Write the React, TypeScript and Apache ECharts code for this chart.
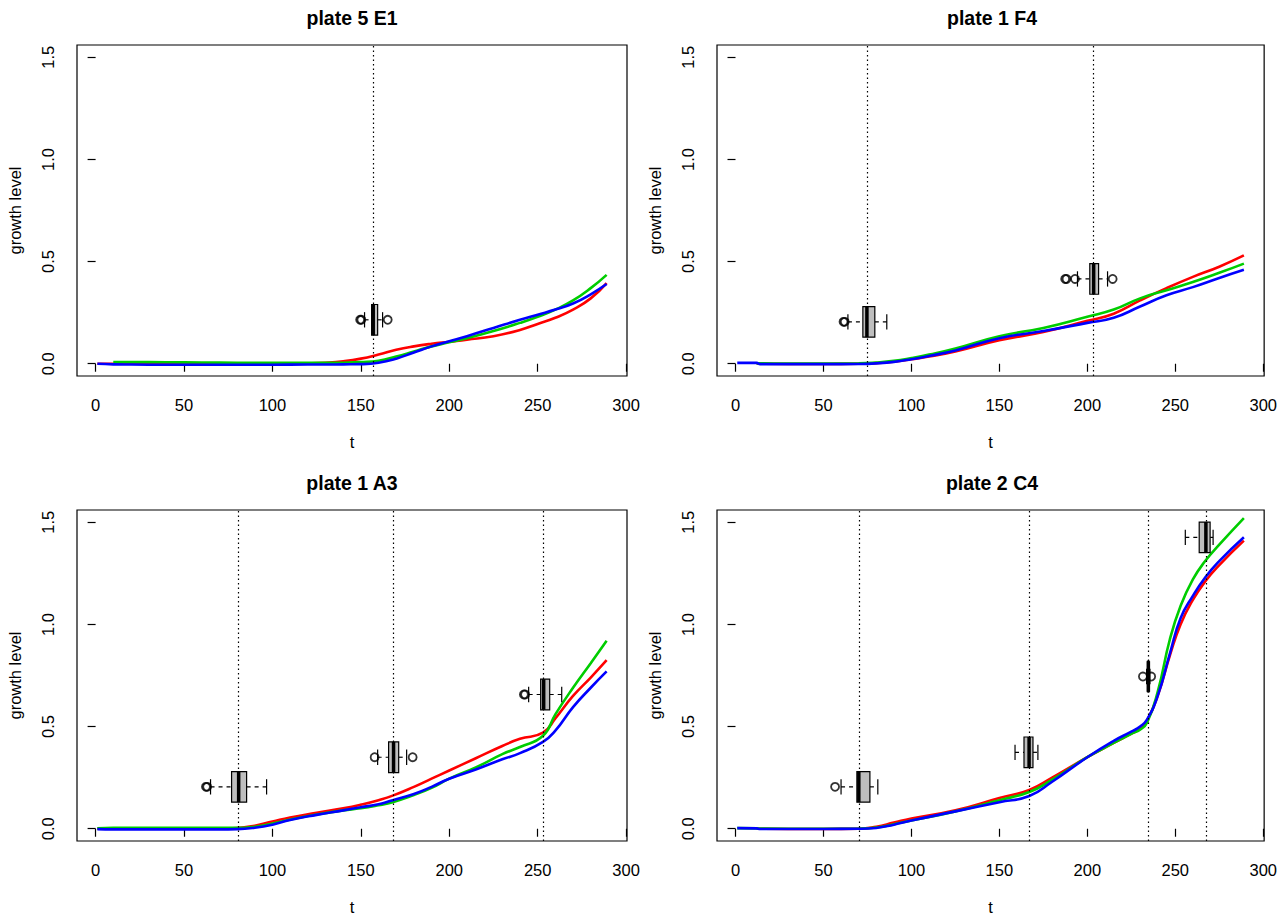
import React, { useEffect, useRef } from "react";
import * as echarts from "echarts";

const FONT = '"Liberation Sans", Arial, Helvetica, sans-serif';

const panelTitles = ["plate 5 E1", "plate 1 F4", "plate 1 A3", "plate 2 C4"];
const xTicks = [0, 50, 100, 150, 200, 250, 300];
const yTicks = [0, 0.5, 1, 1.5];

// ---------- panel A : plate 5 E1 ----------
const tA = [1, 10, 20, 40, 60, 80, 100, 120, 130, 140, 150, 160, 170, 180, 190, 200, 210, 225, 240, 250, 260, 270, 280, 289];
const redA = [0, 0, 0, 0, 0, 0, 0, 0.002, 0.005, 0.012, 0.025, 0.045, 0.068, 0.085, 0.098, 0.108, 0.118, 0.135, 0.165, 0.195, 0.225, 0.265, 0.32, 0.395];
const greenA = [null, 0.008, 0.008, 0.007, 0.006, 0.005, 0.004, 0.004, 0.004, 0.005, 0.008, 0.015, 0.035, 0.06, 0.085, 0.105, 0.125, 0.16, 0.2, 0.23, 0.265, 0.31, 0.37, 0.435];
const blueA = [0, -0.003, -0.004, -0.005, -0.005, -0.005, -0.005, -0.004, -0.004, -0.003, -0.002, 0.005, 0.025, 0.055, 0.085, 0.11, 0.135, 0.175, 0.215, 0.24, 0.265, 0.295, 0.34, 0.39];
// boxes: [y, lower whisker, q1, median, q3, upper whisker]
const boxesA = [[0.215, 152.1, 156.1, 157, 159.5, 162.3]];
const outliersA = [[149.6, 0.215], [150.3, 0.215], [165.2, 0.215]];

// ---------- panel B : plate 1 F4 ----------
const tB = [1, 12, 14, 30, 50, 70, 80, 90, 100, 110, 125, 150, 175, 200, 215, 230, 245, 260, 275, 289];
const redB = [null, 0.001, 0, -0.001, -0.001, 0, 0.003, 0.01, 0.022, 0.035, 0.06, 0.115, 0.155, 0.21, 0.245, 0.31, 0.37, 0.425, 0.475, 0.53];
const greenB = [null, 0.002, 0.002, 0.001, 0.001, 0.002, 0.006, 0.014, 0.028, 0.045, 0.075, 0.135, 0.175, 0.23, 0.265, 0.32, 0.36, 0.4, 0.445, 0.49];
const blueB = [0.004, 0.004, -0.002, -0.002, -0.002, -0.001, 0.002, 0.009, 0.022, 0.038, 0.065, 0.125, 0.16, 0.2, 0.225, 0.28, 0.335, 0.375, 0.42, 0.46];
const boxesB = [
  [0.205, 63.9, 72.4, 74.7, 79.2, 86.0],
  [0.415, 194.4, 201.4, 203.6, 206.4, 211.5],
];
const outliersB = [[61.4, 0.205], [62.1, 0.205], [187.4, 0.415], [188.2, 0.415], [193.0, 0.415], [214.4, 0.415]];

// ---------- panel C : plate 1 A3 ----------
const tC = [1, 10, 30, 50, 70, 80, 90, 100, 110, 125, 140, 150, 160, 168, 180, 190, 200, 215, 230, 240, 253, 260, 270, 280, 289];
const redC = [0, 0, 0, 0, 0, 0.003, 0.015, 0.035, 0.055, 0.078, 0.1, 0.118, 0.14, 0.162, 0.205, 0.245, 0.285, 0.345, 0.405, 0.44, 0.47, 0.54, 0.65, 0.74, 0.825];
const greenC = [0.002, 0.005, 0.005, 0.005, 0.004, 0.004, 0.01, 0.025, 0.045, 0.07, 0.09, 0.1, 0.115, 0.13, 0.165, 0.2, 0.245, 0.3, 0.365, 0.4, 0.455, 0.56, 0.69, 0.81, 0.92];
const blueC = [-0.002, -0.003, -0.003, -0.003, -0.003, -0.002, 0.005, 0.02, 0.043, 0.068, 0.09, 0.105, 0.12, 0.14, 0.17, 0.205, 0.245, 0.29, 0.34, 0.37, 0.425, 0.48, 0.595, 0.69, 0.77];
const boxesC = [
  [0.205, 65.0, 76.9, 80.9, 85.4, 96.7],
  [0.35, 159.5, 165.7, 168.5, 171.4, 175.9],
  [0.657, 244.9, 251.7, 253.4, 256.8, 263.6],
];
const outliersC = [[62.4, 0.205], [63.1, 0.205], [157.8, 0.35], [179.3, 0.35], [242.2, 0.657], [242.9, 0.657]];

// ---------- panel D : plate 2 C4 ----------
const tD = [1, 12, 14, 30, 50, 70, 80, 90, 100, 125, 150, 167, 180, 200, 215, 225, 230, 234, 240, 247, 253, 260, 267, 275, 289];
const redD = [null, 0.001, 0, -0.001, -0.001, 0, 0.01, 0.03, 0.05, 0.09, 0.15, 0.19, 0.25, 0.35, 0.42, 0.465, 0.49, 0.53, 0.65, 0.85, 1.0, 1.12, 1.21, 1.29, 1.41];
const greenD = [0.003, 0.002, 0.001, 0, 0, 0.001, 0.006, 0.022, 0.04, 0.085, 0.14, 0.18, 0.24, 0.35, 0.42, 0.465, 0.485, 0.52, 0.67, 0.93, 1.09, 1.22, 1.31, 1.39, 1.52];
const blueD = [0.003, 0.002, -0.001, -0.001, -0.001, 0, 0.004, 0.02, 0.04, 0.085, 0.13, 0.16, 0.23, 0.35, 0.43, 0.475, 0.5, 0.535, 0.65, 0.86, 1.03, 1.14, 1.23, 1.31, 1.427];
const boxesD = [
  [0.205, 60.0, 69.0, 70.1, 76.4, 80.9],
  [0.374, 158.9, 164.0, 166.9, 169.1, 171.9],
  [0.745, 233.7, 234.2, 234.7, 235.1, 235.6],
  [1.426, 255.7, 263.6, 267.4, 269.8, 271.5],
];
const outliersD = [[56.6, 0.205], [231.6, 0.745], [236.3, 0.745]];

const PANELS = [
  { title: panelTitles[0], t: tA, red: redA, green: greenA, blue: blueA, boxes: boxesA, outliers: outliersA },
  { title: panelTitles[1], t: tB, red: redB, green: greenB, blue: blueB, boxes: boxesB, outliers: outliersB },
  { title: panelTitles[2], t: tC, red: redC, green: greenC, blue: blueC, boxes: boxesC, outliers: outliersC },
  { title: panelTitles[3], t: tD, red: redD, green: greenD, blue: blueD, boxes: boxesD, outliers: outliersD },
];

const X_MIN = -10.52;
const X_MAX = 300.52;
const Y_MIN = -0.06;
const Y_MAX = 1.56;
const GRID_LEFTS = [77, 717];
const GRID_TOPS = [45, 510];
const GRID_W = 550;
const GRID_H = 331;
const BOX_HALF = 0.075;

const COLORS = { red: "#FF0000", green: "#00CD00", blue: "#0000FF" };

function pairs(t: number[], v: (number | null)[]) {
  const out: number[][] = [];
  t.forEach((x, i) => {
    const y = v[i];
    if (y !== null && y !== undefined) out.push([x, y]);
  });
  return out;
}

function renderBox(params: any, api: any) {
  const y = api.value(0);
  const lo = api.value(1);
  const q1 = api.value(2);
  const med = api.value(3);
  const q3 = api.value(4);
  const hi = api.value(5);
  const pLo = api.coord([lo, y]);
  const pQ1 = api.coord([q1, y]);
  const pMed = api.coord([med, y]);
  const pQ3 = api.coord([q3, y]);
  const pHi = api.coord([hi, y]);
  const top = api.coord([q1, y + BOX_HALF])[1];
  const bot = api.coord([q1, y - BOX_HALF])[1];
  const sTop = api.coord([q1, y + BOX_HALF / 2])[1];
  const sBot = api.coord([q1, y - BOX_HALF / 2])[1];
  const black = "#000";
  return {
    type: "group",
    children: [
      { type: "line", shape: { x1: pLo[0], y1: pLo[1], x2: pQ1[0], y2: pQ1[1] }, style: { stroke: black, lineWidth: 1.2, lineDash: [4, 4] } },
      { type: "line", shape: { x1: pQ3[0], y1: pQ3[1], x2: pHi[0], y2: pHi[1] }, style: { stroke: black, lineWidth: 1.2, lineDash: [4, 4] } },
      { type: "line", shape: { x1: pLo[0], y1: sTop, x2: pLo[0], y2: sBot }, style: { stroke: black, lineWidth: 1.2 } },
      { type: "line", shape: { x1: pHi[0], y1: sTop, x2: pHi[0], y2: sBot }, style: { stroke: black, lineWidth: 1.2 } },
      { type: "rect", shape: { x: pQ1[0], y: top, width: pQ3[0] - pQ1[0], height: bot - top }, style: { fill: "#BEBEBE", stroke: black, lineWidth: 1.2 } },
      { type: "line", shape: { x1: pMed[0], y1: top, x2: pMed[0], y2: bot }, style: { stroke: black, lineWidth: 3.5 } },
    ],
  };
}

export default function App() {
  const ref = useRef<HTMLDivElement>(null);

  useEffect(() => {
    if (!ref.current) return;
    const chart = echarts.init(ref.current, null, { renderer: "svg" });

    const grids: any[] = [];
    const xAxes: any[] = [];
    const yAxes: any[] = [];
    const series: any[] = [];
    const graphics: any[] = [];

    PANELS.forEach((p, i) => {
      const left = GRID_LEFTS[i % 2];
      const top = GRID_TOPS[Math.floor(i / 2)];
      grids.push({
        left, top, width: GRID_W, height: GRID_H,
        show: true, borderColor: "#000", borderWidth: 1.2, backgroundColor: "transparent",
        containLabel: false,
      });
      xAxes.push({
        type: "value", gridIndex: i, min: X_MIN, max: X_MAX,
        axisLine: { show: false },
        splitLine: { show: false },
        axisTick: { show: true, inside: false, length: 8, customValues: xTicks, lineStyle: { color: "#000", width: 1.2 } },
        axisLabel: { customValues: xTicks, margin: 20, color: "#000", fontSize: 16.5, fontFamily: FONT },
        name: "t", nameLocation: "middle", nameGap: 57,
        nameTextStyle: { color: "#000", fontSize: 16.5, fontFamily: FONT },
      });
      yAxes.push({
        type: "value", gridIndex: i, min: Y_MIN, max: Y_MAX,
        axisLine: { show: false },
        splitLine: { show: false },
        axisTick: { show: true, inside: false, length: 8, customValues: yTicks, lineStyle: { color: "#000", width: 1.2 } },
        axisLabel: {
          customValues: yTicks, margin: 21, rotate: 90, color: "#000", fontSize: 16.5, fontFamily: FONT,
          formatter: (v: number) => v.toFixed(1),
        },
        name: "growth level", nameLocation: "middle", nameGap: 54, nameRotate: 90,
        nameTextStyle: { color: "#000", fontSize: 16.5, fontFamily: FONT },
      });
      graphics.push({
        type: "text",
        x: left + GRID_W / 2,
        y: top - 27,
        style: { text: p.title, fill: "#000", fontSize: 19.5, fontWeight: "bold", fontFamily: FONT, align: "center", verticalAlign: "middle" },
      });

      const lineCommon = {
        type: "line", xAxisIndex: i, yAxisIndex: i, showSymbol: false, symbol: "none",
        smooth: 0.5, silent: true,
      };
      series.push({
        ...lineCommon,
        name: `red${i}`,
        data: pairs(p.t, p.red),
        lineStyle: { color: COLORS.red, width: 2.6 },
        markLine: {
          silent: true, symbol: ["none", "none"], label: { show: false },
          lineStyle: { color: "#000", width: 1.2, type: [1.5, 3] },
          data: p.boxes.map((b) => ({ xAxis: b[3] })),
        },
      });
      series.push({ ...lineCommon, name: `green${i}`, data: pairs(p.t, p.green), lineStyle: { color: COLORS.green, width: 2.6 } });
      series.push({ ...lineCommon, name: `blue${i}`, data: pairs(p.t, p.blue), lineStyle: { color: COLORS.blue, width: 2.6 } });
      series.push({
        type: "custom", xAxisIndex: i, yAxisIndex: i, silent: true,
        renderItem: renderBox,
        encode: { x: [1, 2, 3, 4, 5], y: 0 },
        data: p.boxes,
        z: 5,
      });
      series.push({
        type: "scatter", xAxisIndex: i, yAxisIndex: i, silent: true,
        symbol: "circle", symbolSize: 8,
        itemStyle: { color: "rgba(0,0,0,0)", borderColor: "#000", borderWidth: 1.8 },
        data: p.outliers,
        z: 5,
      });
    });

    chart.setOption({
      animation: false,
      backgroundColor: "#fff",
      textStyle: { fontFamily: FONT },
      grid: grids,
      xAxis: xAxes,
      yAxis: yAxes,
      series,
      graphic: graphics,
    });

    return () => chart.dispose();
  }, []);

  return <div ref={ref} style={{ position: "fixed", left: 0, top: 0, width: 1280, height: 919 }} />;
}
